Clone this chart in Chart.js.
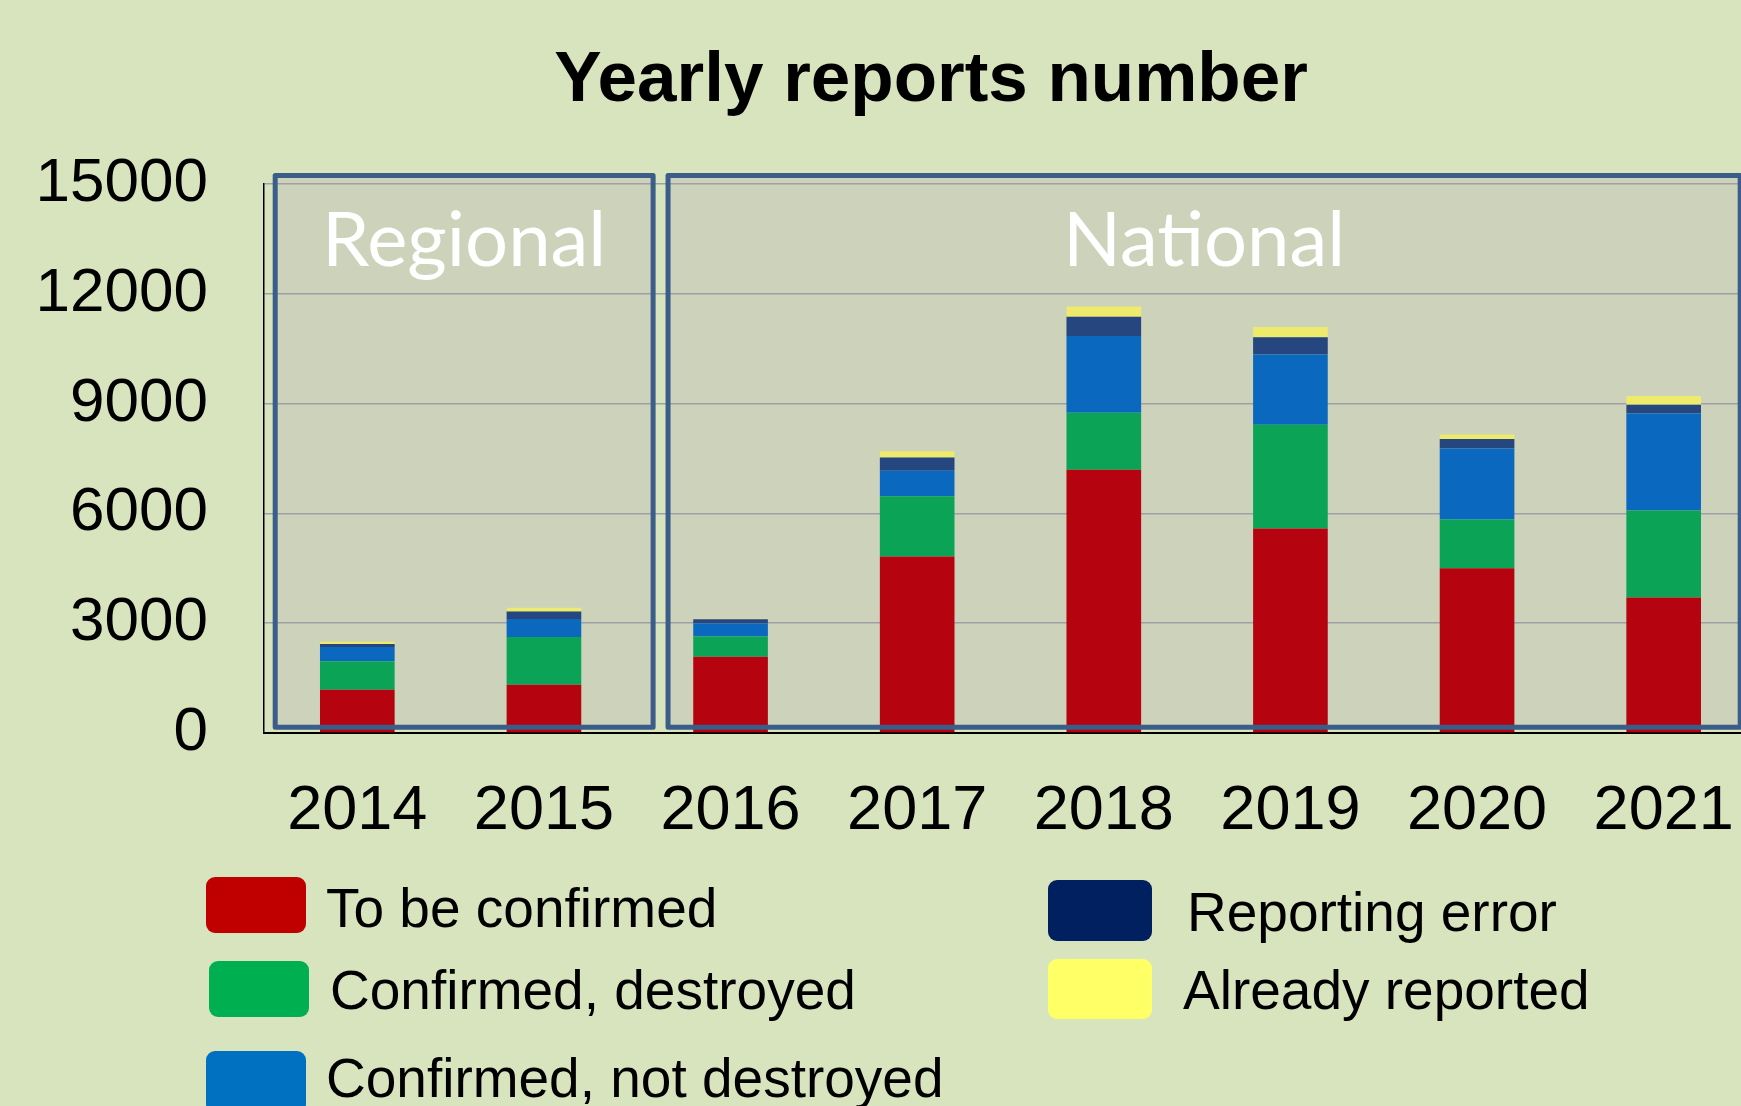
<!DOCTYPE html>
<html>
<head>
<meta charset="utf-8">
<script src="https://cdn.jsdelivr.net/npm/chart.js@4"></script>
<style>
  html, body { margin: 0; padding: 0; overflow: hidden; background: #D8E4BE; width: 1741px; height: 1106px; }
  #wrap { width: 1741px; height: 1106px; overflow: hidden; position: relative; }
  canvas { display: block; position: absolute; left: 0; top: 0; }
</style>
</head>
<body>
<div id="wrap"><canvas id="reportsChart" width="1767" height="1106"></canvas></div>
<script>
const years = ["2014", "2015", "2016", "2017", "2018", "2019", "2020", "2021"];

const toBeConfirmed         = [1180, 1320, 2080, 4820, 7190, 5590, 4500, 3700];
const confirmedDestroyed    = [780, 1300, 560, 1650, 1560, 2830, 1330, 2380];
const confirmedNotDestroyed = [390, 495, 355, 695, 2100, 1920, 1940, 2650];
const reportingError        = [80, 205, 110, 365, 520, 475, 265, 240];
const alreadyReported       = [60, 100, 15, 165, 285, 275, 120, 235];

const seriesNames = ["To be confirmed", "Confirmed, destroyed", "Confirmed, not destroyed", "Reporting error", "Already reported"];
const yTicks = [0, 3000, 6000, 9000, 12000, 15000];
const groupNames = ["Regional", "National"];
const chartTitle = "Yearly reports number";

// colours
const barColors = ["#B5040F", "#0BA356", "#0A68BE", "#25467F", "#EEEA6C"];
const legendColors = ["#C00000", "#00B050", "#0070C0", "#002060", "#FFFF66"];

const ctx = document.getElementById("reportsChart").getContext("2d");

function catPixel(xs, i) {
  const p0 = xs.getPixelForValue(0);
  const p1 = xs.getPixelForValue(1);
  return p0 + i * (p1 - p0);
}

// group boxes in category-index units
const boxSpans = [[-0.44, 1.585], [1.665, 7.41]];

function boxRects(chart) {
  const xs = chart.scales.x, ys = chart.scales.y;
  const top = ys.getPixelForValue(15235);
  const bottom = ys.getPixelForValue(160);
  return boxSpans.map(s => ({ left: catPixel(xs, s[0]), right: catPixel(xs, s[1]), top, bottom }));
}

const decorPlugin = {
  id: "decor",
  beforeDraw(chart) {
    const c = chart.ctx;
    c.save();
    c.fillStyle = "#D8E4BE";
    c.fillRect(0, 0, chart.width, chart.height);
    c.fillStyle = "#CDD2BA";
    boxRects(chart).forEach(b => c.fillRect(b.left, b.top, b.right - b.left, b.bottom - b.top));
    c.restore();
  },
  afterDatasetsDraw(chart) {
    const c = chart.ctx;
    c.save();
    c.strokeStyle = "#3B5D8A";
    c.lineWidth = 5;
    c.lineJoin = "round";
    c.fillStyle = "#FFFFFF";
    c.font = "76px Lato";
    c.textAlign = "center";
    c.textBaseline = "alphabetic";
    boxRects(chart).forEach((b, i) => {
      c.strokeRect(b.left, b.top, b.right - b.left, b.bottom - b.top);
      c.fillText(groupNames[i], (b.left + b.right) / 2, b.top + 91);
    });
    c.restore();
  },
  afterDraw(chart) {
    const c = chart.ctx;
    c.save();
    c.fillStyle = "#000";
    c.font = "bold 71px 'Liberation Sans', Arial";
    c.textAlign = "center";
    c.textBaseline = "alphabetic";
    c.fillText(chartTitle, 931, 101);

    // legend, two columns
    const items = [
      { x: 206, y: 877, w: 100, h: 56, tx: 326, ty: 927 },
      { x: 209, y: 961, w: 100, h: 56, tx: 330, ty: 1009 },
      { x: 206, y: 1051, w: 100, h: 62, tx: 326, ty: 1097 },
      { x: 1048, y: 880, w: 104, h: 61, tx: 1187, ty: 931 },
      { x: 1048, y: 959, w: 104, h: 60, tx: 1183, ty: 1009 }
    ];
    c.textAlign = "left";
    c.font = "55px 'Liberation Sans', Arial";
    items.forEach((it, i) => {
      c.fillStyle = legendColors[i];
      c.beginPath();
      c.roundRect(it.x, it.y, it.w, it.h, 9);
      c.fill();
      c.fillStyle = "#000";
      c.fillText(seriesNames[i], it.tx, it.ty);
    });
    c.restore();
  }
};

const seriesData = [toBeConfirmed, confirmedDestroyed, confirmedNotDestroyed, reportingError, alreadyReported];

new Chart(ctx, {
  type: "bar",
  data: {
    labels: years,
    datasets: seriesData.map((d, i) => ({
      label: seriesNames[i],
      data: d,
      backgroundColor: barColors[i],
      borderWidth: 0,
      barPercentage: 1,
      categoryPercentage: 0.4
    }))
  },
  options: {
    responsive: false,
    animation: false,
    layout: { padding: { top: 184, right: 4, left: 0, bottom: 0 } },
    plugins: {
      legend: { display: false },
      title: { display: false },
      tooltip: { enabled: false }
    },
    scales: {
      x: {
        stacked: true,
        grid: { display: false },
        border: { display: true, color: "#000", width: 2 },
        ticks: {
          color: "#000",
          font: { family: "'Liberation Sans', Arial", size: 63 },
          padding: 33,
          maxRotation: 0,
          autoSkip: false
        },
        afterFit: s => { s.height = 373; }
      },
      y: {
        stacked: true,
        min: 0,
        max: 15000,
        afterBuildTicks: s => { s.ticks = yTicks.map(v => ({ value: v })); },
        grid: { color: "#A29EA6", lineWidth: 1.5, drawTicks: false },
        border: { display: true, color: "#000", width: 1.5 },
        ticks: {
          color: "#000",
          font: { family: "'Liberation Sans', Arial", size: 62 },
          padding: 56,
          callback: v => String(v)
        },
        afterFit: s => { s.width = 264; }
      }
    }
  },
  plugins: [decorPlugin]
});
</script>
</body>
</html>
